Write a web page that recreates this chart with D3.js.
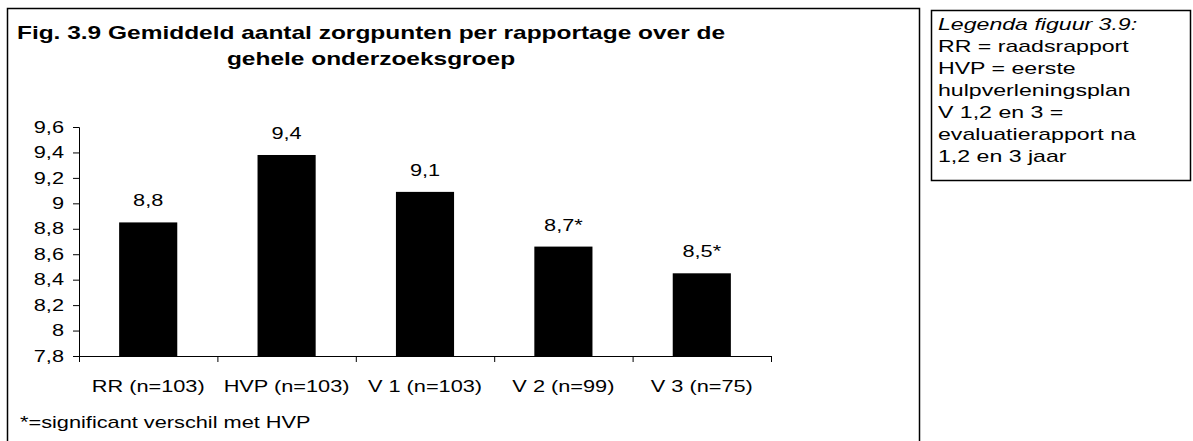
<!DOCTYPE html>
<html>
<head>
<meta charset="utf-8">
<script src="https://cdn.jsdelivr.net/npm/d3@7"></script>
<style>
  body { margin: 0; background: #fff; }
  svg { display: block; font-family: "Liberation Sans", Arial, sans-serif; }
</style>
</head>
<body>
<script>
const width = 1193;
const height = 441;

// data
const categories = ['RR (n=103)', 'HVP (n=103)', 'V 1 (n=103)', 'V 2 (n=99)', 'V 3 (n=75)'];
const values = [8.85, 9.38, 9.09, 8.66, 8.45];
const valueLabels = ['8,8', '9,4', '9,1', '8,7*', '8,5*'];
const yTicks = [7.8, 8, 8.2, 8.4, 8.6, 8.8, 9, 9.2, 9.4, 9.6];
const titleLines = ['Fig. 3.9 Gemiddeld aantal zorgpunten per rapportage over de', 'gehele onderzoeksgroep'];
const footnote = '*=significant verschil met HVP';
const legendLines = ['Legenda figuur 3.9:', 'RR = raadsrapport', 'HVP = eerste', 'hulpverleningsplan', 'V 1,2 en 3 =', 'evaluatierapport na', '1,2 en 3 jaar'];

const sx = 1.36; // the scan is stretched horizontally

const svg = d3.select('body').append('svg')
  .attr('width', width)
  .attr('height', height);

// text helper: stretched text placed at x,y
function label(parent, x, y, str, size, anchor, weight, style) {
  return parent.append('g')
    .attr('transform', `translate(${x},${y}) scale(${sx},1)`)
    .append('text')
      .attr('text-anchor', anchor || 'start')
      .style('font-size', size + 'px')
      .style('font-weight', weight || 'normal')
      .style('font-style', style || 'normal')
      .text(str);
}

// frames
svg.append('rect')
  .attr('x', 7.5).attr('y', 8.5)
  .attr('width', 912).attr('height', 460)
  .style('fill', 'none').style('stroke', '#000').style('stroke-width', 1.5);

svg.append('rect')
  .attr('x', 931.5).attr('y', 10.5)
  .attr('width', 259).attr('height', 170)
  .style('fill', 'none').style('stroke', '#000').style('stroke-width', 1.5);

// title
titleLines.forEach((t, i) => label(svg, 371, 39 + i * 26, t, 18, 'middle', 'bold'));

// legend
legendLines.forEach((t, i) => label(svg, 938, 30 + i * 22, t, 17, 'start', 'normal', i === 0 ? 'italic' : 'normal'));

// scales
const x = d3.scaleBand()
  .domain(categories)
  .range([79, 771])
  .paddingInner(0.58)
  .paddingOuter(0.29);

const y = d3.scaleLinear()
  .domain([7.8, 9.6])
  .range([356, 127]);

const fmt = v => d3.format('~g')(v).replace('.', ',');

// y axis
const yAxis = svg.append('g')
  .attr('transform', 'translate(79,0)')
  .call(d3.axisLeft(y).tickValues(yTicks).tickFormat(fmt).tickSize(6).tickPadding(9));
yAxis.select('.domain').style('stroke-width', 1);
yAxis.selectAll('text')
  .style('font-size', '16px')
  .style('fill', '#000')
  .attr('transform', function() { return `translate(${this.getAttribute('x')},0) scale(${sx},1)`; })
  .attr('x', 0);

// x axis: line plus boundary ticks
const xEdge = d3.scaleLinear().domain([0, categories.length]).range([79, 771]);
svg.append('g')
  .attr('transform', `translate(0,${y(7.8)})`)
  .call(d3.axisBottom(xEdge).tickValues(d3.range(categories.length + 1)).tickFormat('').tickSize(6).tickSizeOuter(0));

// category labels
categories.forEach(c => label(svg, x(c) + x.bandwidth() / 2, 392, c, 16, 'middle'));

// bars
svg.append('g')
  .selectAll('rect')
  .data(values)
  .enter().append('rect')
    .attr('x', (d, i) => x(categories[i]))
    .attr('y', d => y(d))
    .attr('width', x.bandwidth())
    .attr('height', d => y(7.8) - y(d))
    .style('fill', '#000');

// value labels
values.forEach((v, i) => label(svg, x(categories[i]) + x.bandwidth() / 2, y(v) - 16, valueLabels[i], 16, 'middle'));

// footnote
label(svg, 20, 428, footnote, 16, 'start');
</script>
</body>
</html>
